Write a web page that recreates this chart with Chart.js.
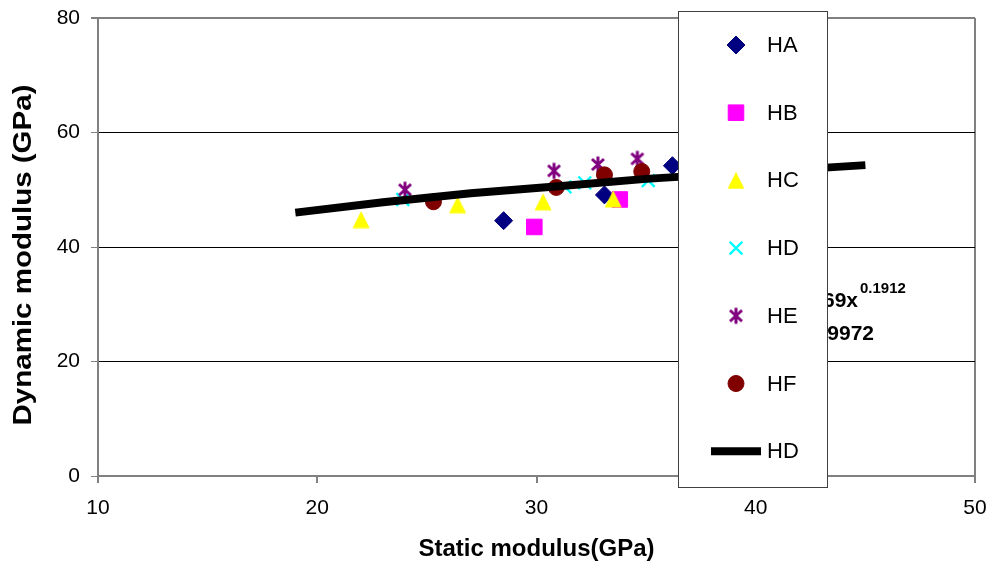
<!DOCTYPE html>
<html>
<head>
<meta charset="utf-8">
<script src="https://cdn.jsdelivr.net/npm/chart.js@4.4.1/dist/chart.umd.min.js"></script>
<style>
    html, body { margin: 0; padding: 0; background: #fff; }
    canvas { display: block; }
</style>
</head>
<body>
<canvas id="modulusChart" width="989" height="563"></canvas>
<script>
// DATA: static modulus (x) vs dynamic modulus (y), GPa
const haStatic = [28.5, 33.1, 36.2];
const haDynamic = [44.6, 49.1, 54.2];
const hbStatic = [29.9, 33.8];
const hbDynamic = [43.5, 48.3];
const hcStatic = [22.0, 26.4, 30.3, 33.5];
const hcDynamic = [44.8, 47.4, 47.9, 48.4];
const hdStatic = [23.9, 31.3, 32.2, 35.1];
const hdDynamic = [48.3, 50.5, 51.2, 51.6];
const heStatic = [24.0, 30.8, 32.8, 34.6];
const heDynamic = [50.0, 53.3, 54.4, 55.4];
const hfStatic = [25.3, 30.9, 33.1, 34.8];
const hfDynamic = [47.9, 50.4, 52.6, 53.2];

// power trend line
const trendStatic = [19, 23, 27, 31, 35, 45];
const trendDynamic = [46.0, 47.8, 49.4, 50.6, 51.9, 54.3];

const xTicks = [10, 20, 30, 40, 50];
const yTicks = [0, 20, 40, 60, 80];

const fitEquation = "y = 26.69x";
const fitExponent = "0.1912";
const fitR2 = "R² = 0.9972";
const xTitle = "Static modulus(GPa)";
const yTitle = "Dynamic modulus (GPa)";

const FONT = "'Liberation Sans', Arial, sans-serif";

const pts = (xs, ys) => xs.map((x, i) => ({ x: x, y: ys[i] }));

// excel-like star: x with a vertical bar
function starMarker(color) {
    const c = document.createElement("canvas");
    c.width = 16; c.height = 19;
    const g = c.getContext("2d");
    g.strokeStyle = color;
    g.lineWidth = 3;
    g.beginPath();
    g.moveTo(8, 1.5); g.lineTo(8, 17.5);
    g.moveTo(2, 4); g.lineTo(14, 15);
    g.moveTo(14, 4); g.lineTo(2, 15);
    g.stroke();
    return c;
}

function triangleMarker(color) {
    const c = document.createElement("canvas");
    c.width = 18; c.height = 18;
    const g = c.getContext("2d");
    g.fillStyle = color;
    g.beginPath();
    g.moveTo(9, 0.5); g.lineTo(17.5, 17.5); g.lineTo(0.5, 17.5);
    g.closePath();
    g.fill();
    return c;
}

function scatterSet(label, xs, ys, color, style, radius, border, order) {
    return {
        type: "scatter",
        label: label,
        data: pts(xs, ys),
        pointStyle: style,
        pointRadius: radius,
        pointBorderWidth: border,
        backgroundColor: color,
        borderColor: color,
        order: order
    };
}

const datasets = [
    scatterSet("HA", haStatic, haDynamic, "#000080", "rectRot", 9, 1, 6),
    scatterSet("HB", hbStatic, hbDynamic, "#ff00ff", "rect", 11, 1, 5),
    scatterSet("HC", hcStatic, hcDynamic, "#ffff00", triangleMarker("#ffff00"), 9, 0, 4),
    scatterSet("HD", hdStatic, hdDynamic, "#00ffff", "crossRot", 9, 2.4, 3),
    scatterSet("HE", heStatic, heDynamic, "#800080", starMarker("#800080"), 8, 0, 2),
    scatterSet("HF", hfStatic, hfDynamic, "#800000", "circle", 8, 1, 1),
    {
        type: "line",
        label: "HD",
        data: pts(trendStatic, trendDynamic),
        borderColor: "#000",
        borderWidth: 8,
        pointRadius: 0,
        fill: false,
        tension: 0,
        order: 0
    }
];

// equation label, then the legend box drawn over it
const overlay = {
    id: "overlay",
    afterDraw(chart) {
        const ctx = chart.ctx;
        ctx.save();
        ctx.fillStyle = "#000";
        ctx.textBaseline = "alphabetic";
        ctx.font = "bold 21px " + FONT;
        ctx.textAlign = "right";
        ctx.fillText(fitEquation, 858, 307);
        ctx.fillText(fitR2, 874, 340);
        ctx.textAlign = "left";
        ctx.font = "bold 15px " + FONT;
        ctx.fillText(fitExponent, 860, 293);

        // legend
        const lx = 678, ly = 11, lw = 149, lh = 476;
        ctx.fillStyle = "#fff";
        ctx.fillRect(lx, ly, lw, lh);
        ctx.strokeStyle = "#404040";
        ctx.lineWidth = 1;
        ctx.strokeRect(lx + 0.5, ly + 0.5, lw, lh);

        chart.data.datasets.forEach((ds, i) => {
            const cy = 45 + i * 67.7;
            if (ds.type === "line") {
                ctx.strokeStyle = ds.borderColor;
                ctx.lineWidth = ds.borderWidth;
                ctx.beginPath();
                ctx.moveTo(711, cy);
                ctx.lineTo(761, cy);
                ctx.stroke();
            } else {
                ctx.fillStyle = ds.backgroundColor;
                ctx.strokeStyle = ds.borderColor;
                ctx.lineWidth = ds.pointBorderWidth;
                Chart.helpers.drawPoint(ctx, {
                    pointStyle: ds.pointStyle,
                    radius: ds.pointRadius,
                    rotation: 0,
                    borderWidth: ds.pointBorderWidth
                }, 736, cy);
            }
            ctx.fillStyle = "#000";
            ctx.font = "22px " + FONT;
            ctx.textAlign = "left";
            ctx.textBaseline = "middle";
            ctx.fillText(ds.label, 767, cy + 1);
        });

        // axis titles
        ctx.fillStyle = "#000";
        ctx.textAlign = "center";
        ctx.textBaseline = "middle";
        ctx.font = "bold 24px " + FONT;
        const area = chart.chartArea;
        ctx.fillText(xTitle, (area.left + area.right) / 2, 549);
        ctx.translate(24, 255);
        ctx.rotate(-Math.PI / 2);
        ctx.scale(1.18, 1);
        ctx.font = "bold 25px " + FONT;
        ctx.fillText(yTitle, 0, 0);
        ctx.restore();
    }
};

new Chart(document.getElementById("modulusChart"), {
    data: { datasets: datasets },
    options: {
        responsive: false,
        animation: false,
        devicePixelRatio: 1,
        layout: { padding: { top: 18, right: 14, left: 0, bottom: 0 } },
        plugins: { legend: { display: false }, tooltip: { enabled: false } },
        scales: {
            x: {
                type: "linear",
                min: xTicks[0],
                max: xTicks[xTicks.length - 1],
                afterFit: s => { s.height = 87; s.paddingLeft = 0; s.paddingRight = 0; },
                afterBuildTicks: s => { s.ticks = xTicks.map(v => ({ value: v })); },
                ticks: { color: "#000", font: { family: FONT, size: 21 }, padding: 13, maxRotation: 0 },
                grid: {
                    color: c => (c.tick && c.tick.value === 50) ? "#808080" : "rgba(0,0,0,0)",
                    lineWidth: 2,
                    tickColor: "#808080",
                    tickLength: 7
                },
                border: { color: "#808080", width: 2 }
            },
            y: {
                type: "linear",
                min: yTicks[0],
                max: yTicks[yTicks.length - 1],
                afterFit: s => { s.width = 98; s.paddingTop = 0; s.paddingBottom = 0; },
                afterBuildTicks: s => { s.ticks = yTicks.map(v => ({ value: v })); },
                ticks: { color: "#000", font: { family: FONT, size: 21 }, padding: 11 },
                grid: {
                    color: c => (c.tick && (c.tick.value === 0 || c.tick.value === 80)) ? "#808080" : "#000",
                    lineWidth: c => (c.tick && c.tick.value === 80) ? 2 : 1,
                    tickColor: "#808080",
                    tickLength: 7
                },
                border: { color: "#808080", width: 2 }
            }
        }
    },
    plugins: [overlay]
});
</script>
</body>
</html>
